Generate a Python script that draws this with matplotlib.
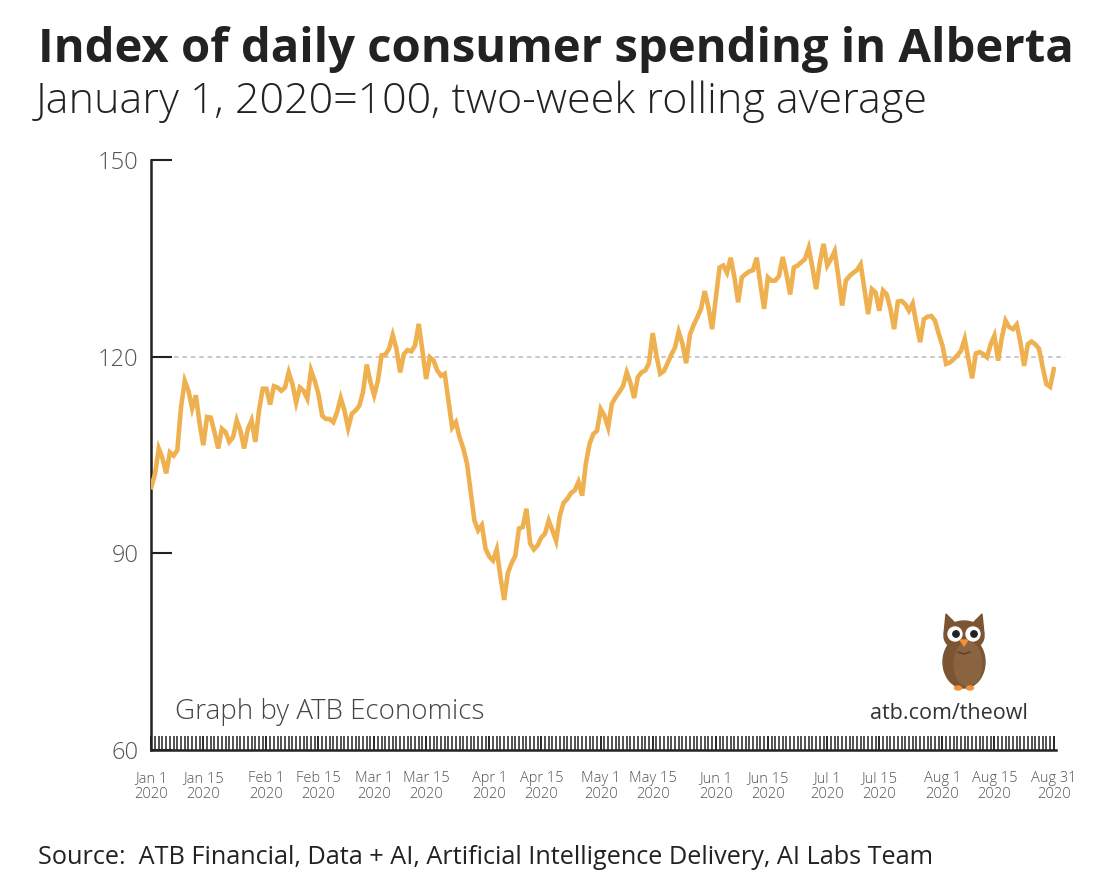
import matplotlib
matplotlib.use('Agg')
import matplotlib.pyplot as plt
import matplotlib.patches as mpatches
import numpy as np
import pandas as pd

"""----Data (index, Jan 1 2020 = 100)----"""
jan = [100.1, 102.1, 106.0, 104.5, 102.2, 105.4, 104.9, 105.7, 112.3, 116.3,
       114.8, 112.1, 114.1, 109.8, 106.5, 110.8, 110.7, 108.5, 106.0, 109.0,
       108.5, 107.0, 107.7, 110.3, 108.7, 106.0, 109.0, 110.3, 107.0, 111.8,
       115.1]
feb = [115.1, 112.7, 115.5, 115.3, 114.8, 115.3, 117.6, 115.8, 113.0, 115.3,
       114.8, 113.6, 117.9, 116.3, 114.3, 111.0, 110.5, 110.5, 110.0, 111.5,
       113.7, 111.8, 109.1, 111.3, 111.8, 112.5, 114.6, 118.8, 116.1]
mar = [114.1, 116.3, 120.2, 120.3, 121.2, 123.3, 121.2, 117.6, 120.4, 121.0,
       120.8, 121.7, 125.0, 120.9, 116.6, 119.9, 119.4, 117.9, 117.1, 117.4,
       113.3, 109.2, 110.0, 107.7, 106.0, 103.7, 99.4, 95.0, 93.5, 94.3,
       90.7]
apr = [89.5, 88.9, 90.6, 86.4, 82.9, 87.0, 88.5, 89.6, 93.8, 94.0,
       96.8, 91.5, 90.6, 91.2, 92.4, 93.0, 95.0, 93.5, 91.9, 95.8,
       97.7, 98.3, 99.2, 99.6, 100.9, 98.8, 103.7, 106.7, 108.2, 108.7]
may = [112.0, 111.0, 109.2, 112.8, 113.8, 114.6, 115.5, 117.6, 116.0, 113.7,
       116.9, 117.6, 117.9, 119.0, 123.6, 120.2, 117.4, 117.8, 119.0, 120.3,
       121.4, 123.8, 122.0, 119.0, 123.3, 124.8, 126.0, 127.3, 130.0, 127.5,
       124.2]
jun = [129.0, 133.6, 133.9, 132.8, 135.1, 132.1, 128.3, 132.1, 132.6, 133.0,
       133.2, 135.1, 131.0, 127.3, 132.1, 131.6, 131.6, 132.3, 135.2, 132.6,
       129.5, 133.6, 133.9, 134.4, 134.9, 136.6, 133.6, 130.3, 134.4, 137.2]
jul = [133.9, 134.9, 136.1, 132.1, 127.8, 131.6, 132.3, 132.8, 133.2, 134.1,
       130.3, 126.5, 130.3, 129.8, 127.0, 130.1, 129.5, 127.3, 124.2, 128.4,
       128.5, 128.0, 127.0, 128.1, 125.0, 122.2, 125.7, 126.1, 126.2, 125.5,
       123.5]
aug = [121.7, 118.9, 119.1, 119.6, 120.2, 120.9, 122.7, 119.6, 116.7, 120.5,
       120.7, 120.4, 119.9, 121.9, 123.2, 119.4, 122.9, 125.5, 124.5, 124.2,
       124.9, 122.2, 118.6, 121.9, 122.3, 121.9, 121.2, 118.4, 115.8, 115.4,
       118.1]

label_dates = ['2020-01-01', '2020-01-15', '2020-02-01', '2020-02-15', '2020-03-01',
               '2020-03-15', '2020-04-01', '2020-04-15', '2020-05-01', '2020-05-15',
               '2020-06-01', '2020-06-15', '2020-07-01', '2020-07-15', '2020-08-01',
               '2020-08-15', '2020-08-31']
y_ticks = [60, 90, 120, 150]

"""----Config----"""
W, H = 1120, 896
LINE_COLOR = '#EFB050'
FONT = 'Open Sans'
plt.rcParams['font.family'] = [FONT, 'DejaVu Sans']


def fx(px):
    return px / W


def fy(py):
    return 1 - py / H


def draw_owl(fig):
    ax = fig.add_axes([fx(936), fy(692), 56 / W, 80 / H])
    ax.set_xlim(0, 56)
    ax.set_ylim(0, 80)
    ax.axis('off')
    brown = '#7B5532'
    ax.add_patch(mpatches.Polygon([[8, 58], [10, 78], [22, 66]], color=brown))
    ax.add_patch(mpatches.Polygon([[48, 58], [46, 78], [34, 66]], color=brown))
    ax.add_patch(mpatches.Ellipse((28, 30), 42, 52, color=brown))
    ax.add_patch(mpatches.Ellipse((28, 56), 40, 30, color=brown))
    ax.add_patch(mpatches.Ellipse((32, 28), 28, 44, color='#8A6440'))
    for cx in (19, 37):
        ax.add_patch(mpatches.Circle((cx, 58), 7, color='white'))
        ax.add_patch(mpatches.Circle((cx + 1, 58), 3.2, color='#222222'))
    ax.add_patch(mpatches.Polygon([[24, 52], [32, 52], [28, 46]], color='#F0913A'))
    ax.plot([22, 28, 34], [40, 38, 40], color='#5A3C22', lw=1)
    ax.add_patch(mpatches.Ellipse((22, 4), 7, 4, color='#F0913A'))
    ax.add_patch(mpatches.Ellipse((34, 4), 7, 4, color='#F0913A'))


def main():
    values = np.array(jan + feb + mar + apr + may + jun + jul + aug)
    dates = pd.date_range('2020-01-01', periods=len(values), freq='D')
    ticks = pd.to_datetime(label_dates)

    fig = plt.figure(figsize=(W / 100, H / 100), dpi=100)
    ax = fig.add_axes([fx(151), fy(750), fx(1056) - fx(151), fy(160) - fy(750)])

    ax.axhline(120, xmin=0.025, xmax=1.01, color='#BBBBBB', lw=1.1,
               ls=(0, (3, 2.5)), clip_on=False, zorder=1)
    ax.plot(dates, values, color=LINE_COLOR, lw=3.3, solid_joinstyle='miter', zorder=3)

    ax.set_ylim(60, 150)
    ax.set_yticks(y_ticks)
    ax.set_xlim(dates[0] - pd.Timedelta(hours=2), dates[-1] + pd.Timedelta(hours=14))
    ax.set_xticks(ticks)
    ax.set_xticklabels([f"{d.strftime('%b')} {d.day}\n2020" for d in ticks])
    ax.set_xticks(dates, minor=True)
    ax.xaxis.remove_overlapping_locs = False

    for side in ('top', 'right'):
        ax.spines[side].set_visible(False)
    for side in ('left', 'bottom'):
        ax.spines[side].set_linewidth(1.8)
        ax.spines[side].set_color('#222222')

    ax.tick_params(axis='y', direction='in', length=15, width=1.5, color='#222222',
                   labelsize=17, labelcolor='#555555', pad=9)
    ax.tick_params(axis='x', which='both', direction='in', length=10, width=1.1,
                   color='#222222')
    ax.tick_params(axis='x', which='major', labelsize=10.5, labelcolor='#555555', pad=15)
    for lab in ax.get_yticklabels():
        lab.set_fontweight('light')
    for lab in ax.get_xticklabels():
        lab.set_fontweight('light')
        lab.set_linespacing(1.15)

    fig.text(fx(38), fy(62), 'Index of daily consumer spending in Alberta',
             fontsize=34, fontweight='bold', color='#222222', va='baseline')
    fig.text(fx(36), fy(113), 'January 1, 2020=100, two-week rolling average',
             fontsize=31, fontweight='light', color='#222222', va='baseline')
    fig.text(fx(175), fy(719), 'Graph by ATB Economics',
             fontsize=20, fontweight='light', color='#444444', va='baseline')
    fig.text(fx(1028), fy(719), 'atb.com/theowl', ha='right',
             fontsize=15.5, color='#333333', va='baseline')
    fig.text(fx(38), fy(864),
             'Source:  ATB Financial, Data + AI, Artificial Intelligence Delivery, AI Labs Team',
             fontsize=18.2, color='#222222', va='baseline')

    draw_owl(fig)
    fig.savefig('out.png', dpi=100, facecolor='white')


if __name__ == '__main__':
    main()
